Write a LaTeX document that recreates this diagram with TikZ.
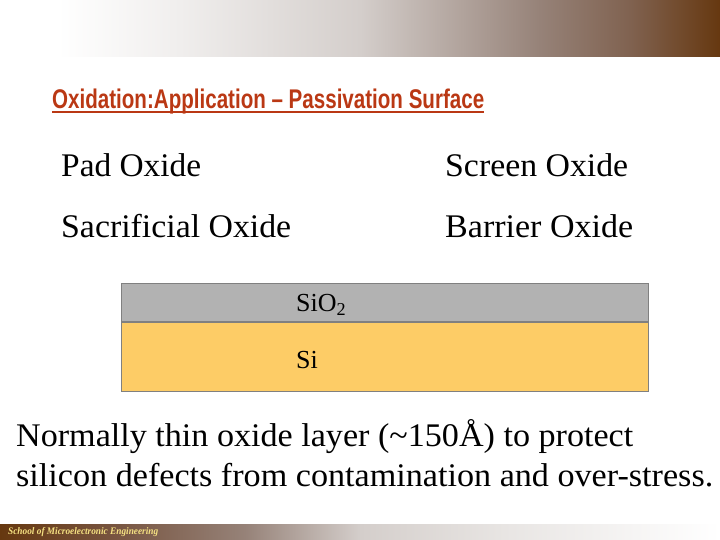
\documentclass[tikz,border=0pt]{standalone}
\usepackage{fontspec}
\usepackage{graphicx}
\setmainfont{Liberation Serif}
\newfontfamily\titlefont{Liberation Sans}
\usetikzlibrary{calc}
\definecolor{brown1}{RGB}{102, 56, 16}
\definecolor{brown2}{RGB}{128, 98, 80}
\definecolor{gray1}{RGB}{240, 238, 237}
\definecolor{gray2}{RGB}{212, 206, 203}
\definecolor{gray3}{RGB}{150, 130, 120}
\definecolor{foot1}{RGB}{120, 85, 65}
\definecolor{foot2}{RGB}{232, 229, 227}
\definecolor{title1}{RGB}{186, 56, 20}
\definecolor{oxide1}{RGB}{178, 178, 178}
\definecolor{silicon1}{RGB}{253, 204, 102}
\definecolor{edge1}{RGB}{128, 128, 128}
\definecolor{yellow1}{RGB}{245, 225, 130}
\pgfdeclarehorizontalshading{topbar}{100bp}{color(0bp)=(white); color(29bp)=(white); color(37.5bp)=(gray1); color(50bp)=(gray2); color(62.5bp)=(gray3); color(68.75bp)=(brown2); color(75bp)=(brown1); color(100bp)=(brown1)}
\pgfdeclarehorizontalshading{footbar}{100bp}{color(0bp)=(brown1); color(25bp)=(brown1); color(33bp)=(foot1); color(42bp)=(gray3); color(50bp)=(gray2); color(60bp)=(foot2); color(75bp)=(white); color(100bp)=(white)}

\begin{document}
\begin{tikzpicture}[x=1pt, y=1pt,
  big/.style={anchor=base west, inner sep=0pt, font=\fontsize{33}{33}\selectfont},
  layer/.style={draw=edge1, line width=1pt, inner sep=0pt, anchor=north west, minimum width=527pt},
  lbl/.style={anchor=base west, inner sep=0pt, font=\fontsize{26}{26}\selectfont}]
  \useasboundingbox (0,0) rectangle (720,540);
  % bars
  \shade[shading=topbar] (0,483) rectangle (720,540);
  \shade[shading=footbar] (0,0) rectangle (720,15);
  \node[anchor=base west, inner sep=0pt, text=yellow1] (foot) at (8,5)
    {\resizebox{150pt}{\height}{\fontsize{10}{10}\selectfont\bfseries\itshape School of Microelectronic Engineering}};
  % title
  \node[anchor=base west, inner sep=0pt, text=title1] (title) at (52,431)
    {\resizebox{432pt}{\height}{\titlefont\bfseries\fontsize{27}{27}\selectfont Oxidation:Application \textendash{} Passivation Surface}};
  \draw[title1, line width=2pt] ($(title.base west)+(0,-3)$) -- ($(title.base east)+(0,-3)$);
  % oxide names
  \node[big] (pad) at (61,363) {\resizebox{140pt}{\height}{Pad Oxide}};
  \node[big] (screen) at (445,363) {\resizebox{183pt}{\height}{Screen Oxide}};
  \node[big] (sacr) at (61,302) {\resizebox{230pt}{\height}{Sacrificial Oxide}};
  \node[big] (barrier) at (445,302) {\resizebox{188pt}{\height}{Barrier Oxide}};
  % layers
  \node[layer, fill=oxide1, minimum height=38pt] (oxide) at (121,257) {};
  \node[layer, fill=silicon1, minimum height=69pt] (si) at (oxide.south west) {};
  \node[lbl] (oxlbl) at (296,228) {SiO\textsubscript{2}};
  \node[lbl] (silbl) at (296,171) {Si};
  % text below
  \node[big] (line1) at (16,93) {\resizebox{617pt}{\height}{Normally thin oxide layer (\textasciitilde150\AA) to protect}};
  \node[big] (line2) at (16,53) {\resizebox{697pt}{\height}{silicon defects from contamination and over-stress.}};
\end{tikzpicture}
\end{document}
